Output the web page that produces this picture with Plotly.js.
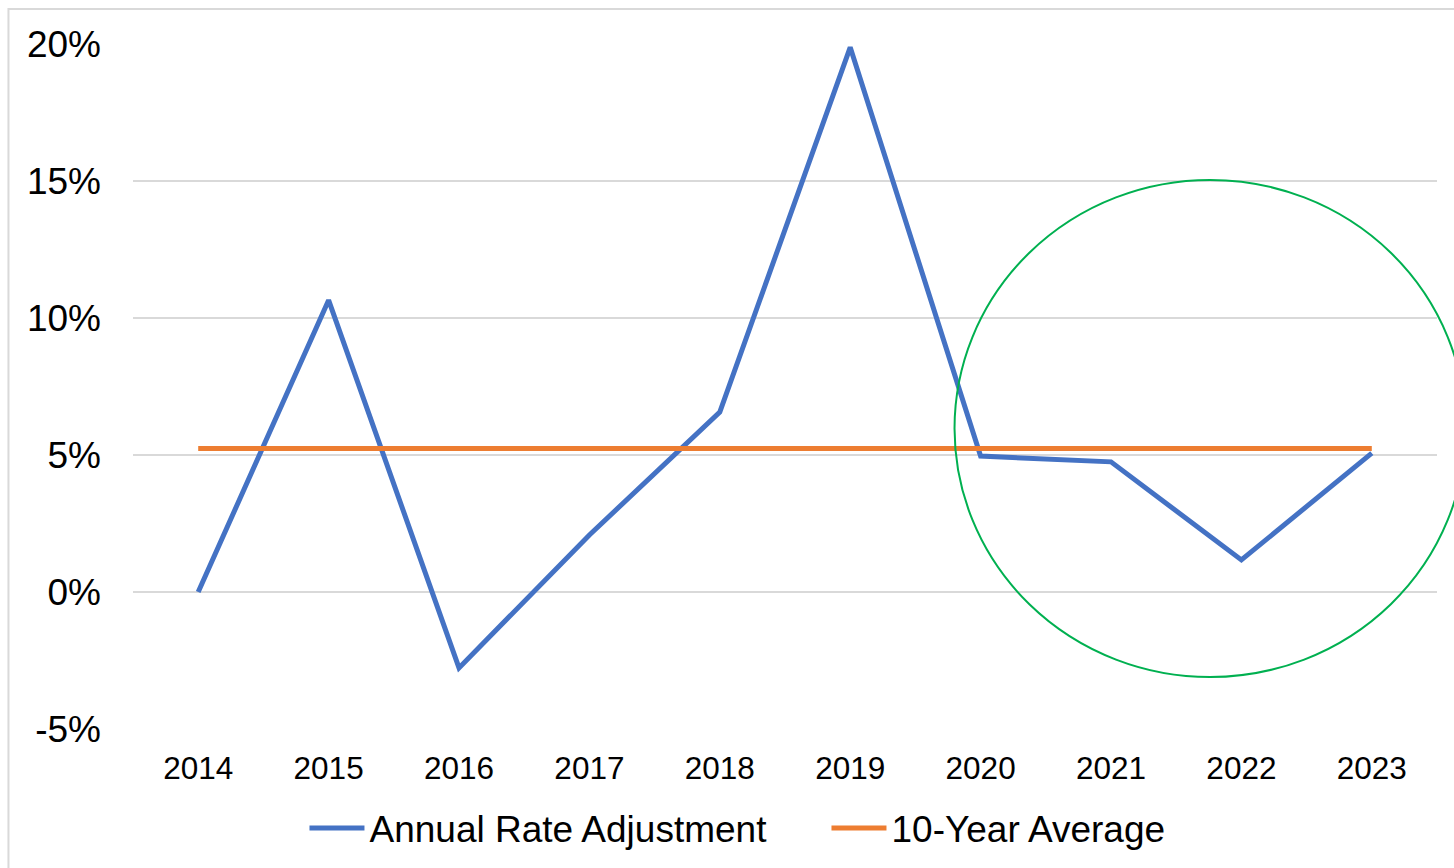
<!DOCTYPE html>
<html>
<head>
<meta charset="utf-8">
<script src="https://cdn.plot.ly/plotly-3.0.1.min.js"></script>
<style>html,body{margin:0;padding:0;background:#fff;}#chart{width:1454px;height:868px;}</style>
</head>
<body>
<div id="chart"></div>
<script>
const years = ["2014","2015","2016","2017","2018","2019","2020","2021","2022","2023"];
const annualRateAdjustment = [0.0, 10.65, -2.77, 2.08, 6.57, 19.88, 4.96, 4.75, 1.17, 5.07];
const tenYearAverage = [5.24, 5.24, 5.24, 5.24, 5.24, 5.24, 5.24, 5.24, 5.24, 5.24];
const yTicks = [-5, 0, 5, 10, 15, 20];
const yTickLabels = ["-5%", "0%", "5%", "10%", "15%", "20%"];

const font = "Liberation Sans, Arial, sans-serif";

const traces = [
  {x: years, y: annualRateAdjustment, type: "scatter", mode: "lines", name: "Annual Rate Adjustment",
   line: {color: "#4472C4", width: 5}},
  {x: years, y: tenYearAverage, type: "scatter", mode: "lines", name: "10-Year Average",
   line: {color: "#ED7D31", width: 5}}
];

const layout = {
  width: 1454, height: 868,
  margin: {l: 133, r: 17, t: 44, b: 139, autoexpand: false},
  paper_bgcolor: "#fff", plot_bgcolor: "#fff",
  showlegend: true,
  legend: {orientation: "h", x: 0.1315, xanchor: "left", y: -0.1, yanchor: "top",
           font: {family: font, size: 37, color: "#000"}, itemwidth: 55,
           entrywidth: 452, entrywidthmode: "pixels", tracegroupgap: 0},
  xaxis: {type: "category", range: [-0.5, 9.5], showgrid: false, zeroline: false, showline: false,
          ticks: "", tickfont: {family: font, size: 31.5, color: "#000"}, ticklabelstandoff: 17},
  yaxis: {range: [-5, 20], tickvals: yTicks, ticktext: yTickLabels, showgrid: true,
          gridcolor: "#D9D9D9", gridwidth: 1.5, zeroline: false, showline: false, ticks: "",
          tickfont: {family: font, size: 37, color: "#000"}, ticklabelstandoff: 31},
  shapes: [
    {type: "rect", xref: "paper", yref: "paper", x0: -0.0955, x1: 1.1, y0: -0.4, y1: 1.051,
     line: {color: "#D9D9D9", width: 2}, fillcolor: "rgba(0,0,0,0)", layer: "below"},
    {type: "circle", xref: "paper", yref: "paper", x0: 0.630, x1: 1.022, y0: 0.0759, y1: 0.8015,
     line: {color: "#00B050", width: 2}, fillcolor: "rgba(0,0,0,0)", layer: "above"}
  ]
};

Plotly.newPlot("chart", traces, layout, {displayModeBar: false, staticPlot: true});
</script>
</body>
</html>
